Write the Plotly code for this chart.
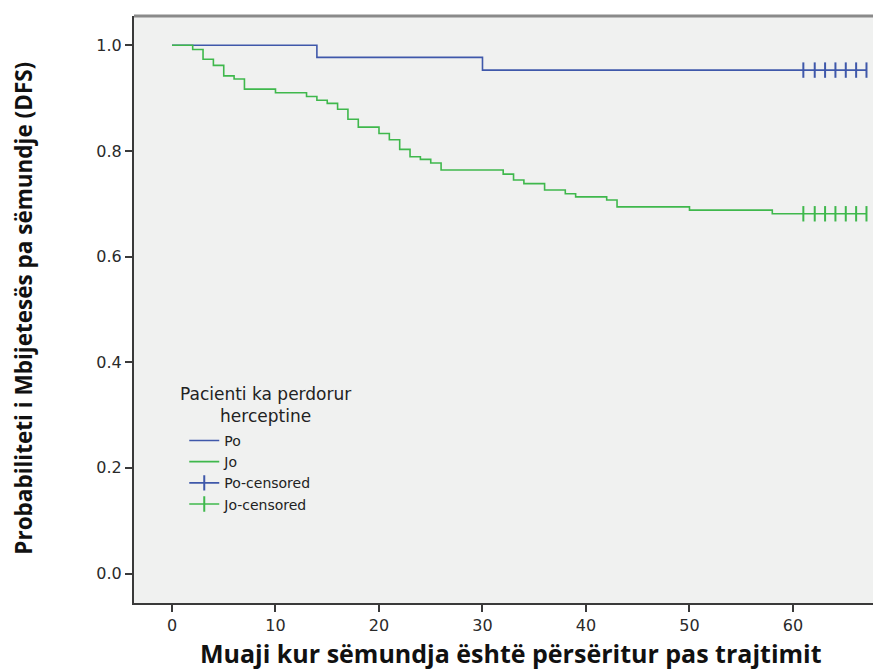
import plotly.graph_objects as go

# ---- data ----
po_times = [0, 14, 30, 61]
po_surv = [1.0, 0.977, 0.953, 0.953]

jo_times = [0, 2, 3, 4, 5, 6, 7, 10, 13, 14, 15, 16, 17, 18, 20, 21, 22, 23,
            24, 25, 26, 32, 33, 34, 36, 38, 39, 42, 43, 50, 58, 61]
jo_surv = [1.0, 0.992, 0.9735, 0.962, 0.942, 0.936, 0.917, 0.910, 0.903, 0.896,
           0.890, 0.879, 0.860, 0.845, 0.833, 0.821, 0.803, 0.789, 0.784, 0.777,
           0.764, 0.756, 0.745, 0.738, 0.726, 0.719, 0.713, 0.707, 0.694, 0.688,
           0.681, 0.681]

po_cens_times = [61.0, 62.1, 63.1, 64.1, 65.1, 66.1, 67.1]
po_cens_surv = [0.953] * 7
jo_cens_times = [61.0, 62.1, 63.1, 64.1, 65.1, 66.1, 67.1]
jo_cens_surv = [0.681] * 7

x_ticks = [0, 10, 20, 30, 40, 50, 60]
y_ticks = [0.0, 0.2, 0.4, 0.6, 0.8, 1.0]

legend_title = "Pacienti ka perdorur<br>herceptine"
x_title = "Muaji kur sëmundja është përsëritur pas trajtimit"
y_title = "Probabiliteti i Mbijetesës pa sëmundje (DFS)"

BLUE = "#3F58AA"
GREEN = "#3FB84C"
TICK_FONT = dict(family="DejaVu Sans", size=16, color="#2a2a2a")
LEG_FONT = dict(family="DejaVu Sans", size=14, color="#222222")
LEGT_FONT = dict(family="DejaVu Sans", size=17, color="#222222")

fig = go.Figure()
fig.add_trace(go.Scatter(x=po_times, y=po_surv, mode="lines", name="Po",
                         line=dict(color=BLUE, width=1.6, shape="hv")))
fig.add_trace(go.Scatter(x=jo_times, y=jo_surv, mode="lines", name="Jo",
                         line=dict(color=GREEN, width=1.6, shape="hv")))
fig.add_trace(go.Scatter(x=po_cens_times, y=po_cens_surv, mode="lines+markers",
                         name="Po-censored",
                         line=dict(color=BLUE, width=1.6),
                         marker=dict(symbol="line-ns", size=11,
                                     line=dict(color=BLUE, width=2))))
fig.add_trace(go.Scatter(x=jo_cens_times, y=jo_cens_surv, mode="lines+markers",
                         name="Jo-censored",
                         line=dict(color=GREEN, width=1.6),
                         marker=dict(symbol="line-ns", size=11,
                                     line=dict(color=GREEN, width=2))))

fig.update_layout(
    width=873, height=670,
    margin=dict(l=134, r=0, t=16, b=67),
    paper_bgcolor="white",
    plot_bgcolor="#F0F1F0",
    showlegend=True,
    legend=dict(x=0.068, y=0.3035, xanchor="left", yanchor="top",
                bgcolor="rgba(0,0,0,0)", font=LEG_FONT,
                tracegroupgap=0, itemwidth=30),
    xaxis=dict(range=[-3.67, 67.73], tickvals=x_ticks, showgrid=False, zeroline=False,
               showline=True, linecolor="#3a3a3a", linewidth=2,
               ticks="outside", ticklen=7, tickwidth=2, tickcolor="#3a3a3a",
               tickfont=TICK_FONT),
    yaxis=dict(range=[-0.0558, 1.0554], tickvals=y_ticks, tickformat=".1f",
               showgrid=False, zeroline=False,
               showline=True, linecolor="#3a3a3a", linewidth=2,
               ticks="outside", ticklen=7, tickwidth=2, tickcolor="#3a3a3a",
               tickfont=TICK_FONT),
    shapes=[dict(type="line", xref="paper", yref="paper", x0=0, x1=1, y0=1, y1=1,
                 line=dict(color="#8a8a8a", width=3))],
    annotations=[
        dict(text=legend_title, xref="paper", yref="paper", x=0.1773, y=0.3375,
             xanchor="center", yanchor="middle", showarrow=False, font=LEGT_FONT),
        dict(text=x_title, xref="paper", yref="paper", x=0.510, y=-0.0860,
             xanchor="center", yanchor="middle", showarrow=False,
             font=dict(family="Open Sans", size=25, color="#111111", weight="bold")),
        dict(text=y_title, xref="paper", yref="paper", x=-0.1489, y=0.503,
             xanchor="center", yanchor="middle", showarrow=False, textangle=-90,
             font=dict(family="Open Sans", size=22.5, color="#111111", weight="bold")),
    ],
)

fig.write_html("out.html")
